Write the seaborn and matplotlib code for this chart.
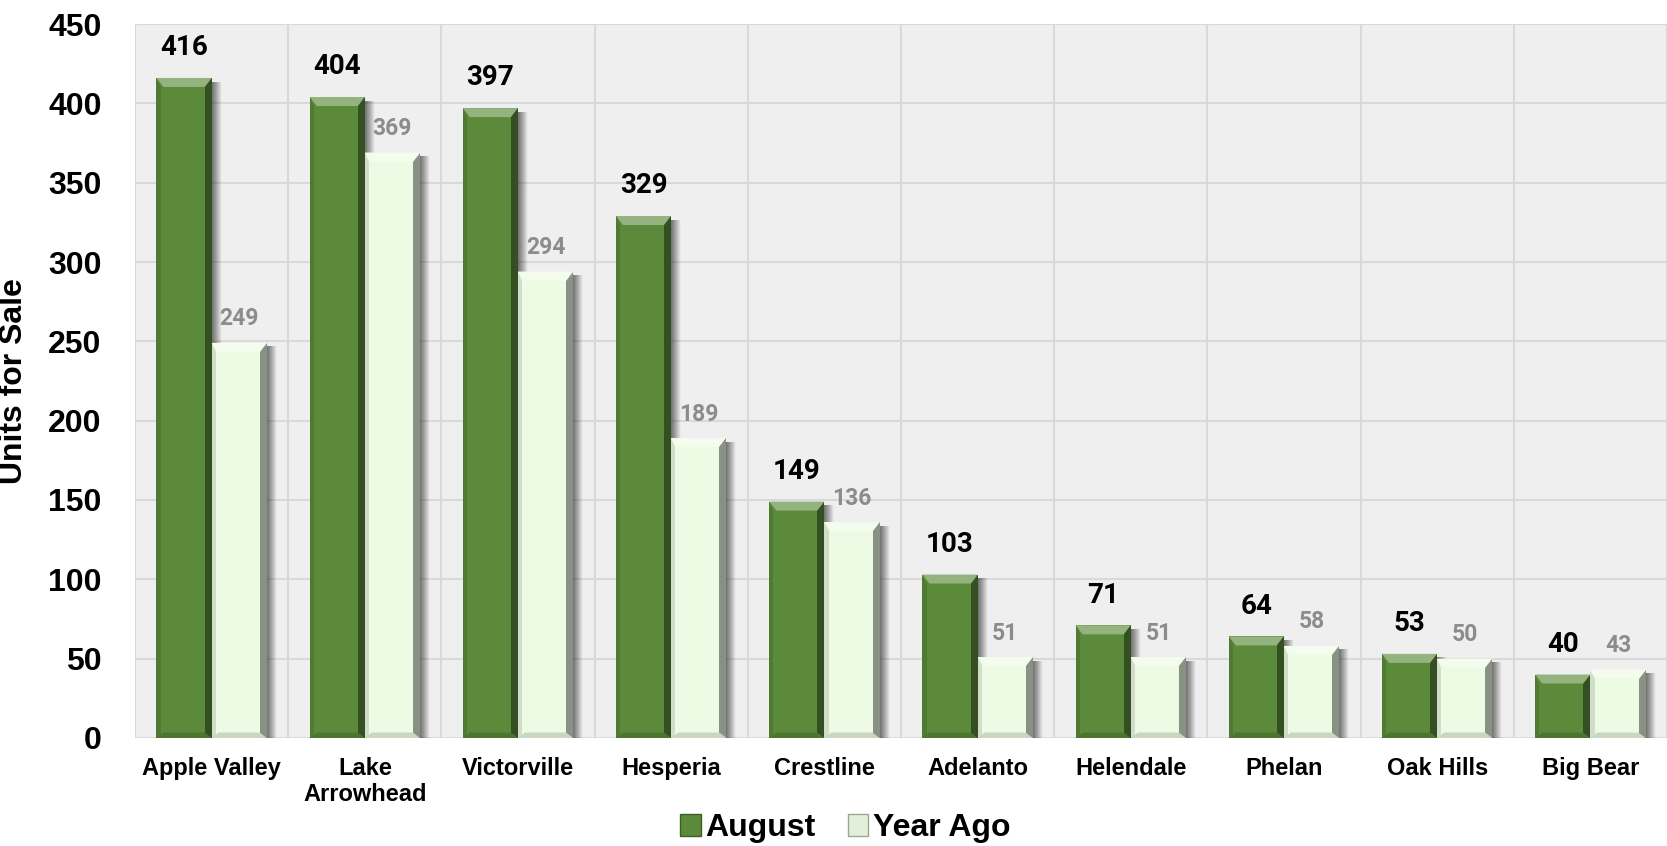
import numpy as np
import pandas as pd
import matplotlib
matplotlib.use("Agg")
import matplotlib.pyplot as plt
import seaborn as sns
from matplotlib.patches import Polygon, Rectangle
from matplotlib.colors import to_rgb

# ---- data ----
cities = ["Apple Valley", "Lake\nArrowhead", "Victorville", "Hesperia", "Crestline",
          "Adelanto", "Helendale", "Phelan", "Oak Hills", "Big Bear"]
august = [416, 404, 397, 329, 149, 103, 71, 64, 53, 40]
year_ago = [249, 369, 294, 189, 136, 51, 51, 58, 50, 43]
series = ["August", "Year Ago"]
yticks = list(range(0, 451, 50))

GREEN = "#5B8A3A"
LIGHT = "#EEFBE4"

df = pd.DataFrame({
    "city": cities * 2,
    "units": august + year_ago,
    "series": [series[0]] * len(cities) + [series[1]] * len(cities),
})

sns.set_theme(style="white")
plt.rcParams["font.family"] = ["Liberation Sans", "DejaVu Sans"]
plt.rcParams["text.color"] = "black"
plt.rcParams["axes.labelcolor"] = "black"
plt.rcParams["xtick.color"] = "black"
plt.rcParams["ytick.color"] = "black"

fig = plt.figure(figsize=(16.67, 8.46), dpi=100)
ax = fig.add_axes([0.081, 0.1277, 0.919, 0.8439])
ax.set_facecolor("#EFEFEF")

sns.barplot(data=df, x="city", y="units", hue="series", order=cities,
            hue_order=series, palette=[GREEN, LIGHT], width=0.72, gap=0,
            saturation=1, linewidth=0, ax=ax, legend=False, zorder=3)

ax.set_xlim(-0.5, len(cities) - 0.5)
ax.set_ylim(0, 450)
ax.set_yticks(yticks)
ax.set_yticklabels([str(t) for t in yticks], fontsize=23, fontweight="bold",
                   color="black")
ax.tick_params(axis="y", length=0, pad=24)
ax.tick_params(axis="x", length=0, pad=14)
for lab in ax.get_xticklabels():
    lab.set_fontsize(17)
    lab.set_fontweight("bold")
    lab.set_color("black")
    lab.set_linespacing(1.12)
ax.set_xlabel("")
ax.set_ylabel("Units for Sale", fontsize=23, fontweight="bold", color="black")
ax.yaxis.set_label_coords(-0.069, 0.5)

# grid: horizontal at ticks, vertical at category boundaries
for t in yticks[1:]:
    ax.axhline(t, color="#D9D9D9", lw=1.5, zorder=1)
for b in np.arange(-0.5, len(cities) + 0.5, 1.0):
    ax.axvline(b, color="#D9D9D9", lw=1.5, zorder=1)
for s in ax.spines.values():
    s.set_visible(False)
ax.axhline(0, color="#D9D9D9", lw=2, zorder=2)

# bevel + shadow on each bar
px_x = 1.0 / 153.2
px_y = 450.0 / 714.0
grad = np.linspace(1, 0, 32).reshape(1, -1)
shadow_cmap = matplotlib.colors.LinearSegmentedColormap.from_list(
    "sh", [(0, 0, 0, 0), (0.12, 0.12, 0.12, 0.6)])

bars = [p for p in ax.patches if isinstance(p, Rectangle) and p.get_height() > 0]
for p in bars:
    x, w, h = p.get_x(), p.get_width(), p.get_height()
    base = np.array(to_rgb(p.get_facecolor()))
    dark = base * 0.4
    lite = np.clip(base + (1 - base) * 0.35, 0, 1)
    # drop shadow to the right
    ax.imshow(grad, extent=(x + w, x + w + 10 * px_x, 0, h - 4 * px_y),
              cmap=shadow_cmap, vmin=0, vmax=1, aspect="auto", zorder=2.5,
              interpolation="bilinear")
    d = 7 * px_x
    bh = 9 * px_y
    # top bevel
    ax.add_patch(Polygon([(x, h), (x + w, h), (x + w - d, h - bh), (x + d, h - bh)],
                         closed=True, facecolor=lite, edgecolor="none", zorder=4))
    # right bevel
    ax.add_patch(Polygon([(x + w, h), (x + w, 0), (x + w - d, 0), (x + w - d, h - bh)],
                         closed=True, facecolor=dark, edgecolor="none", zorder=4, alpha=0.7))
    # left bevel
    ax.add_patch(Polygon([(x, h), (x, 0), (x + d * 0.6, 0), (x + d * 0.6, h - bh)],
                         closed=True, facecolor=base * 0.8, edgecolor="none", zorder=4, alpha=0.6))
    # bottom bevel
    ax.add_patch(Polygon([(x, 0), (x + w, 0), (x + w - d, bh * 0.6), (x + d, bh * 0.6)],
                         closed=True, facecolor=base * 0.85, edgecolor="none", zorder=4))

# value labels
for i, v in enumerate(august):
    ax.annotate(str(v), (i - 0.18, v), xytext=(0, 12), textcoords="offset points",
                ha="center", va="bottom", fontsize=20, fontweight="bold",
                color="black", family=["Roboto", "DejaVu Sans"], zorder=6)
for i, v in enumerate(year_ago):
    ax.annotate(str(v), (i + 0.18, v), xytext=(0, 9), textcoords="offset points",
                ha="center", va="bottom", fontsize=16.5, fontweight="bold",
                color="#8C8C8C", family=["Roboto", "DejaVu Sans"], zorder=6)

# legend
handles = [Rectangle((0, 0), 1, 1, facecolor=GREEN, edgecolor="#3C5F26", lw=1),
           Rectangle((0, 0), 1, 1, facecolor="#E3EFDA", edgecolor="#9AA890", lw=1)]
fig.legend(handles, series, loc="center", bbox_to_anchor=(0.507, 0.021),
           ncol=2, frameon=False, prop={"size": 23, "weight": "bold"},
           handlelength=0.65, handleheight=0.65, handletextpad=0.15,
           columnspacing=1.0)

fig.savefig("out.png", dpi=100, facecolor="white")
